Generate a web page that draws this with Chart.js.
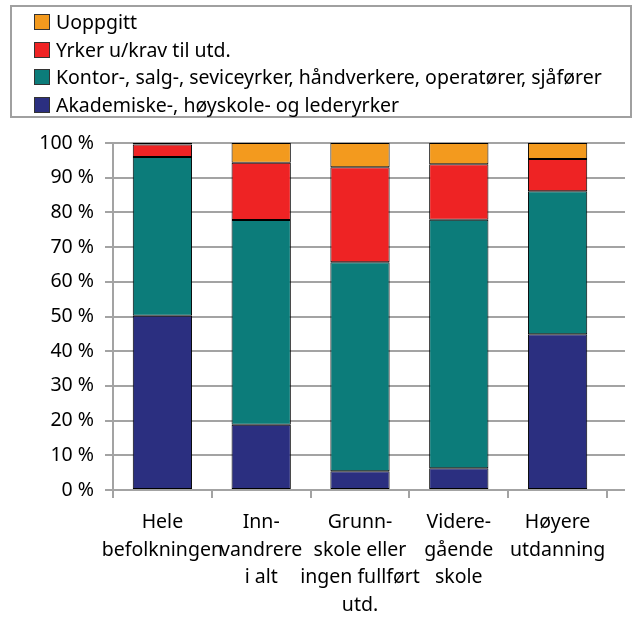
<!DOCTYPE html>
<html>
<head>
<meta charset="utf-8">
<script src="https://cdn.jsdelivr.net/npm/chart.js@4/dist/chart.umd.min.js"></script>
<style>
  body { margin: 0; background: #fff; font-family: "Noto Sans", "Open Sans", sans-serif; }
  #wrap { position: relative; width: 640px; height: 619px; }
  #legend {
    position: absolute; left: 10px; top: 5px; width: 618px; height: 109px;
    border: 2px solid #a0a0a0; box-sizing: content-box;
  }
  .item { position: absolute; left: 22px; height: 27px; line-height: 27px; font-size: 19.5px; color: #000; white-space: nowrap; }
  .item span.box { display: inline-block; width: 14px; height: 14px; border: 1px solid #333; margin-right: 6px; vertical-align: -1px; }
  canvas { position: absolute; left: 0; top: 0; }
</style>
</head>
<body>
<div id="wrap">
  <canvas id="grafico" width="640" height="619"></canvas>
  <div id="legend"></div>
</div>
<script>
// Kategorier (x-akse)
const kategorier = [
  ['Hele', 'befolkningen'],
  ['Inn-', 'vandrere', 'i alt'],
  ['Grunn-', 'skole eller', 'ingen fullført', 'utd.'],
  ['Videre-', 'gående', 'skole'],
  ['Høyere', 'utdanning']
];

// Andeler i prosent, fra bunn til topp
const akademiske = [50.2, 18.8, 5.4, 6.3, 44.9];
const kontor = [45.8, 59.0, 60.2, 71.6, 41.2];
const yrkerUtenKrav = [3.6, 16.5, 27.4, 16.0, 9.3];
const uoppgitt = [0.4, 5.7, 7.0, 6.1, 4.6];

const yTicks = [0, 10, 20, 30, 40, 50, 60, 70, 80, 90, 100];

const serier = [
  { label: 'Akademiske-, høyskole- og lederyrker', data: akademiske, color: '#2b2f80' },
  { label: 'Kontor-, salg-, seviceyrker, håndverkere, operatører, sjåfører', data: kontor, color: '#0c7c7a' },
  { label: 'Yrker u/krav til utd.', data: yrkerUtenKrav, color: '#ee2324' },
  { label: 'Uoppgitt', data: uoppgitt, color: '#f39a1e' }
];

const fontFam = '"Noto Sans", "Open Sans", sans-serif';
const fontSize = 19.5;
const gridColor = '#a3a3a3';

// Forlenger de horisontale rutenettlinjene litt til høyre, som i originalen
const forlengGrid = {
  id: 'forlengGrid',
  beforeDatasetsDraw(chart) {
    const { ctx, chartArea, scales } = chart;
    ctx.save();
    ctx.strokeStyle = gridColor;
    ctx.lineWidth = 2;
    yTicks.forEach(v => {
      const y = Math.round(scales.y.getPixelForValue(v));
      ctx.beginPath();
      ctx.moveTo(chartArea.right, y);
      ctx.lineTo(chartArea.right + 18, y);
      ctx.stroke();
    });
    ctx.restore();
  }
};

const ctx = document.getElementById('grafico').getContext('2d');
const grafico = new Chart(ctx, {
  type: 'bar',
  data: {
    labels: kategorier,
    datasets: serier.map(s => ({
      label: s.label,
      data: s.data,
      backgroundColor: s.color,
      borderColor: '#000',
      borderWidth: 1,
      borderSkipped: false,
      categoryPercentage: 0.6,
      barPercentage: 1.0
    }))
  },
  options: {
    responsive: false,
    animation: false,
    layout: { padding: { top: 143, right: 33, left: 0, bottom: 0 } },
    plugins: {
      legend: { display: false },
      tooltip: { enabled: false }
    },
    scales: {
      x: {
        stacked: true,
        afterFit(s) { s.height = 129; },
        grid: { offset: true, drawOnChartArea: false, color: gridColor, lineWidth: 2, tickLength: 8 },
        border: { color: gridColor, width: 2 },
        ticks: {
          color: '#000', maxRotation: 0, minRotation: 0, autoSkip: false, padding: 11,
          font: { family: fontFam, size: fontSize, lineHeight: 27.5 / fontSize }
        }
      },
      y: {
        stacked: true,
        min: 0, max: 100,
        afterFit(s) { s.width = 113; },
        grid: { color: gridColor, lineWidth: 2, tickLength: 8 },
        border: { color: gridColor, width: 2 },
        ticks: {
          stepSize: 10, color: '#000', padding: 11,
          font: { family: fontFam, size: fontSize },
          callback: v => v + ' %'
        }
      }
    }
  },
  plugins: [forlengGrid]
});

// Forklaring (omvendt rekkefølge, som i originalen)
const legend = document.getElementById('legend');
serier.slice().reverse().forEach((s, i) => {
  const d = document.createElement('div');
  d.className = 'item';
  d.style.top = (1 + i * 27.5) + 'px';
  d.innerHTML = '<span class="box" style="background:' + s.color + '"></span>' + s.label;
  legend.appendChild(d);
});
</script>
</body>
</html>
